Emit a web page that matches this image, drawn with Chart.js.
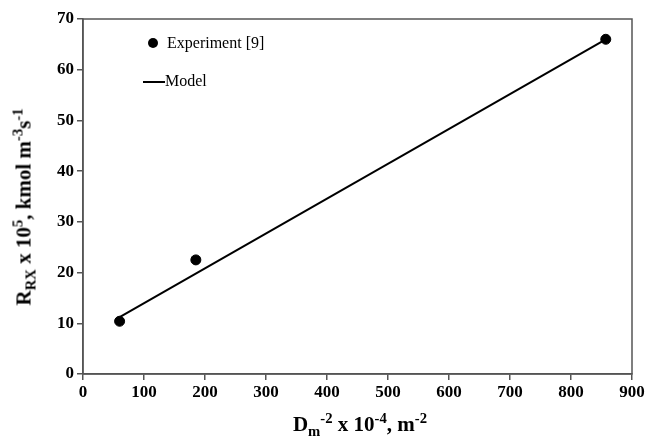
<!DOCTYPE html>
<html>
<head>
<meta charset="utf-8">
<script src="https://cdn.jsdelivr.net/npm/chart.js@4/dist/chart.umd.min.js"></script>
<style>
html,body{margin:0;padding:0;background:#fff;}
#wrap{position:relative;width:648px;height:439px;font-family:"Liberation Serif","Times New Roman",serif;}
canvas{position:absolute;left:0;top:0;}
.lbl{position:absolute;white-space:nowrap;color:#000;}
.ytitle{left:24px;top:207px;transform:translate(-50%,-50%) rotate(-90deg);font-weight:bold;font-size:21px;}
.xtitle{left:360px;top:424px;transform:translate(-50%,-50%);font-weight:bold;font-size:21px;}
sup,sub{font-size:70%;line-height:0;}
.leg{font-size:16px;line-height:16px;}
</style>
</head>
<body>
<div id="wrap">
<canvas id="c" width="648" height="439"></canvas>
<div class="lbl ytitle">R<sub>RX</sub> x 10<sup>5</sup>, kmol m<sup>-3</sup>s<sup>-1</sup></div>
<div class="lbl xtitle">D<sub>m</sub><sup>-2</sup> x 10<sup>-4</sup>, m<sup>-2</sup></div>
<div class="lbl leg" style="left:148px;top:35px;"><span style="display:inline-block;width:10px;height:10px;border-radius:50%;background:#000;vertical-align:middle;margin-right:9px;position:relative;top:-1px;"></span>Experiment [9]</div>
<div class="lbl leg" style="left:143px;top:73px;"><span style="display:inline-block;width:22px;height:2px;background:#000;vertical-align:middle;"></span>Model</div>
</div>
<script>
const expX = [60, 185, 857];
const expY = [10.4, 22.5, 66];
const modelX = [60, 857];
const modelY = [11.2, 66];
const xTicks = [0,100,200,300,400,500,600,700,800,900];
const yTicks = [0,10,20,30,40,50,60,70];

const frame = {
  id:'frame',
  afterDraw(chart){
    const a = chart.chartArea, ctx = chart.ctx;
    ctx.save();
    ctx.strokeStyle = '#555';
    ctx.lineWidth = 1.5;
    ctx.strokeRect(a.left, a.top, a.right - a.left, a.bottom - a.top);
    ctx.restore();
  }
};

new Chart(document.getElementById('c'), {
  type: 'scatter',
  data: {
    datasets: [
      {label:'Model', type:'line', data: modelX.map((x,i)=>({x, y:modelY[i]})), borderColor:'#000', borderWidth:2, pointRadius:0, fill:false, order:2},
      {label:'Experiment [9]', data: expX.map((x,i)=>({x, y:expY[i]})), backgroundColor:'#000', borderColor:'#000', pointRadius:5, order:1}
    ]
  },
  options: {
    responsive:false, animation:false,
    layout:{padding:{left:0,right:16,top:19,bottom:0}},
    plugins:{legend:{display:false}, tooltip:{enabled:false}},
    scales:{
      x:{type:'linear', min:0, max:900,
        afterBuildTicks(s){ s.ticks = xTicks.map(v=>({value:v})); },
        afterFit(s){ s.height = 65; },
        border:{display:true,color:'#555',width:1.5},
        grid:{drawOnChartArea:false, tickLength:6, color:'#555', lineWidth:1.5},
        ticks:{color:'#000', font:{family:'Liberation Serif', size:17, weight:'bold'}, padding:2, maxRotation:0}
      },
      y:{type:'linear', min:0, max:70,
        afterBuildTicks(s){ s.ticks = yTicks.map(v=>({value:v})); },
        afterFit(s){ s.width = 83; },
        border:{display:true,color:'#555',width:1.5},
        grid:{drawOnChartArea:false, tickLength:6, color:'#555', lineWidth:1.5},
        ticks:{color:'#000', font:{family:'Liberation Serif', size:17, weight:'bold'}, padding:3}
      }
    }
  },
  plugins:[frame]
});
</script>
</body>
</html>
